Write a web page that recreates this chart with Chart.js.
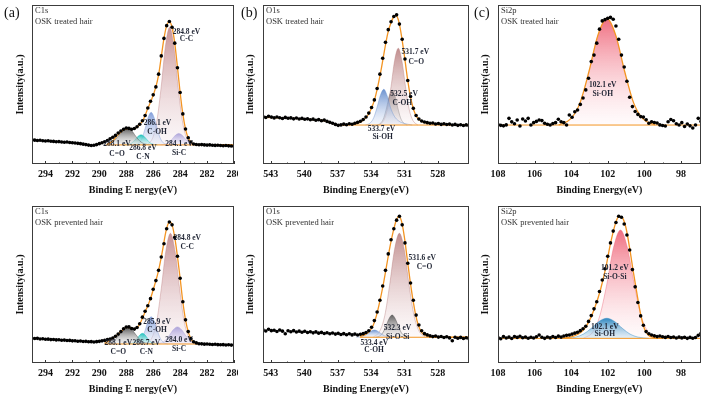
<!DOCTYPE html>
<html>
<head>
<meta charset="utf-8">
<script src="https://cdn.jsdelivr.net/npm/chart.js@4.4.1/dist/chart.umd.min.js"></script>
<style>
  html, body { margin: 0; padding: 0; background: #fff; }
  #wrap { position: relative; width: 705px; height: 397px; overflow: hidden; }
  #wrap canvas { position: absolute; }
</style>
</head>
<body>
<div id="wrap">
  <canvas id="c1s_t" width="238" height="198" style="left:0;top:0"></canvas>
  <canvas id="o1s_t" width="235" height="198" style="left:238px;top:0"></canvas>
  <canvas id="si2p_t" width="232" height="198" style="left:473px;top:0"></canvas>
  <canvas id="c1s_p" width="238" height="199" style="left:0;top:198px"></canvas>
  <canvas id="o1s_p" width="235" height="199" style="left:238px;top:198px"></canvas>
  <canvas id="si2p_p" width="232" height="199" style="left:473px;top:198px"></canvas>
</div>
<script>
// ---- tick labels ----
const C1s_ticks = [280, 282, 284, 286, 288, 290, 292, 294];
const O1s_ticks = [528, 531, 534, 537, 540, 543];
const Si2p_ticks = [98, 100, 102, 104, 106, 108];

// ---- energy grids of the measured points (start, step) ----
const C1s_start = 295, C1s_step = 0.2;
const O1s_start = 543.7, O1s_step = 0.25;
const Si2p_start = 108, Si2p_step = 0.15;

// ---- C1s, OSK treated hair ----
const C1s_t_dots = [15.2,15.0,14.8,14.9,14.6,14.5,14.6,14.3,14.2,14.0,
  14.1,13.8,13.7,13.8,13.5,13.4,13.2,13.0,12.8,12.5,
  12.2,11.9,11.6,11.8,12.2,12.8,13.4,14.0,14.8,15.9,
  16.8,18.0,19.5,20.8,21.9,22.6,22.4,21.9,22.3,23.4,
  25.0,27.2,30.5,35.2,39.5,43.5,48.5,56.5,68.0,79.0,
  87.0,89.6,86.0,76.0,60.5,45.0,31.5,22.0,16.5,13.8,
  12.6,12.3,12.1,12.2,12.0,11.9,12.0,11.8,11.7,11.8,
  11.6,11.5,11.6,11.4,11.3,11.2];
const C1s_t_env = [[289.4,12.5],[289.0,14.5],[288.6,18.5],[288.2,21.5],[287.9,22.3],[287.6,21.8],[287.3,22.5],[287.0,24.8],
  [286.7,28.5],[286.4,35],[286.1,41],[285.8,48.5],[285.6,56],[285.4,67.5],[285.2,79],[285.0,87],[284.8,89.6],
  [284.6,86],[284.4,76],[284.2,61],[284.0,45],[283.8,31.5],[283.6,22],[283.4,16.5],[283.2,13.8],[283.0,12.6],
  [282.6,12.1],[282.0,12.0],[281.0,12.0],[280.0,12.0]];
const C1s_t_base = [[289.5,12],[280,12]];
const C1s_t_CC = [[286.47,12],[286.03,16.6],[285.72,27.5],[285.4,49],[285.09,74.2],[284.78,86],[284.47,74.2],[284.16,49],[283.84,27.5],[283.53,16.6],[283.09,12]];
const C1s_t_SiC = [[285.45,12],[285.1,12.5],[284.85,13.5],[284.6,15.6],[284.35,18.1],[284.1,19.2],[283.85,18.1],[283.6,15.6],[283.35,13.5],[283.1,12.5],[282.75,12]];
const C1s_t_COH = [[287.37,12],[287.05,13.3],[286.83,16.3],[286.6,22.3],[286.38,29.2],[286.15,32.5],[285.93,29.2],[285.7,22.3],[285.48,16.3],[285.25,13.3],[284.93,12]];
const C1s_t_CN = [[288.12,12],[287.8,12.4],[287.58,13.3],[287.35,15.2],[287.13,17.4],[286.9,18.4],[286.68,17.4],[286.45,15.2],[286.23,13.3],[286.0,12.4],[285.68,12]];
const C1s_t_CO = [[289.7,12],[289.25,12.7],[288.93,14.3],[288.6,17.5],[288.28,21.3],[287.95,23],[287.62,21.3],[287.3,17.5],[286.98,14.3],[286.65,12.7],[286.2,12]];
const C1s_t_labels = [[283.53,83,'284.8 eV'],[283.53,78.6,'C-C'],[285.68,26,'286.1 eV'],[285.71,20.3,'C-OH'],
  [288.69,12.6,'288.1 eV'],[288.69,6.1,'C=O'],[286.76,9.9,'286.8 eV'],[286.76,4.6,'C-N'],[284.08,12.4,'284.1 eV'],[284.08,6.7,'Si-C']];

// ---- O1s, OSK treated hair ----
const O1s_t_dots = [29.8,29.2,30.0,29.5,29.0,29.6,29.1,28.6,29.3,28.8,
  29.0,28.4,28.9,28.3,28.7,28.1,28.4,27.8,28.2,27.5,
  27.9,27.2,27.6,26.8,26.2,25.6,24.9,24.3,24.6,25.1,
  24.7,25.3,25.0,25.6,26.2,26.9,28.0,29.6,32.0,35.5,
  40.3,47.5,56.5,66.5,76.5,84.5,89.5,92.8,93.8,88.0,
  78.5,66.0,52.5,42.5,35.0,30.5,28.3,27.0,26.4,26.0,
  25.6,25.8,25.2,25.5,24.9,25.3,24.8,25.1,24.5,24.9,
  24.3,24.7,24.2,24.6,24.1];
const O1s_t_env = [[543.7,29.3],[541,28.7],[539,27.8],[538,27],[537.3,25.2],[536.8,24.6],[536,24.8],[535.2,25.5],[534.7,27.5],
  [534.3,30.5],[534.0,34.5],[533.7,40],[533.4,48.5],[533.1,59],[532.8,71],[532.5,82],[532.2,89],[531.95,92.6],[531.75,93.4],
  [531.5,89.5],[531.25,80],[531.0,68],[530.75,55],[530.5,44],[530.25,36],[530.0,31],[529.7,28],[529.3,26.3],[528.5,25.3],
  [527,24.8],[525.2,24.5]];
const O1s_t_base = [[537.2,24.5],[525.2,24.5]];
const O1s_t_CO = [[533.3,24.5],[532.85,27.5],[532.53,34.6],[532.2,48.7],[531.88,65.1],[531.55,72.8],[531.23,65.1],[530.9,48.7],[530.58,34.6],[530.25,27.5],[529.8,24.5]];
const O1s_t_COH = [[533.45,24.5],[533.1,25.9],[532.85,29.1],[532.6,35.5],[532.35,43.0],[532.1,46.5],[531.85,43.0],[531.6,35.5],[531.35,29.1],[531.1,25.9],[530.75,24.5]];
const O1s_t_SiOH = [[534.5,24.5],[534.05,25.9],[533.75,29.2],[533.45,35.8],[533.15,43.4],[532.85,47],[532.55,43.0],[532.25,35.5],[531.9,30.0],[531.5,27.0],[531.0,25.5],[530.3,24.5]];
const O1s_t_labels = [[530.02,70.2,'531.7 eV'],[529.94,64.3,'C=O'],[531.03,43.8,'532.5 eV'],[531.18,38.2,'C-OH'],
  [533.06,21.8,'533.7 eV'],[532.96,16.8,'Si-OH']];

// ---- Si2p, OSK treated hair ----
const Si2p_t_dots = [24.8,24.3,24.0,24.6,28.7,26.5,25.3,27.7,23.9,28.3,
  27.0,28.7,24.5,26.0,26.8,27.7,27.3,25.6,25.0,24.5,
  25.4,26.0,28.1,26.6,26.0,24.5,30.8,29.4,32.9,34.0,
  37.5,41.5,46.6,53.9,64.4,68.5,76.0,84.8,90.0,90.8,
  91.6,92.2,91.0,86.8,78.5,68.5,61.0,52.0,42.0,36.1,
  33.0,31.2,29.8,29.5,27.8,25.6,26.6,26.1,25.8,24.6,
  24.2,23.9,26.6,28.0,27.2,25.3,24.5,26.0,23.6,25.2,
  24.0,22.6,24.5,28.7,26.8];
const Si2p_t_base = [[108,24.5],[96.9,24.5]];
const Si2p_t_SiOH = [[104.68,24.5],[104.0,28.7],[103.51,38.6],[103.03,58],[102.54,80.9],[102.05,91.5],[101.56,80.9],[101.07,58],[100.59,38.6],[100.1,28.7],[99.42,24.5]];
const Si2p_t_labels = [[102.27,49.7,'102.1 eV'],[102.27,44,'Si-OH']];

// ---- C1s, OSK prevented hair ----
const C1s_p_dots = [15.8,15.6,15.7,15.3,15.4,15.1,15.2,14.9,15.0,14.7,
  14.8,14.5,14.6,14.3,14.4,14.1,14.2,13.9,14.0,13.7,
  13.8,13.5,13.6,13.4,13.6,13.8,14.1,14.4,14.9,15.3,
  15.9,17.0,18.4,20.0,21.8,22.9,23.0,22.0,21.6,22.6,
  25.0,29.2,33.0,36.5,41.0,47.0,52.5,59.0,67.5,76.0,
  85.5,89.8,88.0,80.0,68.0,54.0,39.0,27.5,20.0,15.5,
  13.5,12.8,12.3,12.2,12.0,12.1,11.9,11.8,11.9,11.7,
  11.6,11.7,11.5,11.6,11.4,11.5];
const C1s_p_env = [[289.6,12.5],[289.2,14.5],[288.8,17],[288.4,20],[288.0,22.7],[287.7,22.5],[287.4,21.8],[287.1,23.5],[286.8,28.5],
  [286.5,34.5],[286.2,41],[285.9,49.5],[285.6,59],[285.3,72],[285.1,82],[284.9,88.5],[284.75,89.8],[284.6,88],[284.4,80],
  [284.2,68],[284.0,54],[283.8,39],[283.6,27.5],[283.4,20],[283.2,15.5],[283.0,13.5],[282.8,12.6],[282.5,12.2]];
const C1s_p_base = [[289.6,12.1],[282.5,12.1]];
const C1s_p_CC = [[286.54,12.1],[286.07,16.5],[285.73,26.9],[285.4,47.4],[285.06,71.4],[284.72,82.6],[284.38,71.4],[284.04,47.4],[283.71,26.9],[283.37,16.5],[282.9,12.1]];
const C1s_p_SiC = [[285.82,12.1],[285.4,12.8],[285.1,14.4],[284.8,17.6],[284.5,21.3],[284.2,23],[283.9,21.3],[283.6,17.6],[283.3,14.4],[283.0,12.8],[282.58,12.1]];
const C1s_p_COH = [[287.37,12.1],[287.05,13.2],[286.83,15.8],[286.6,20.8],[286.38,26.7],[286.15,29.5],[285.93,26.7],[285.7,20.8],[285.48,15.8],[285.25,13.2],[284.93,12.1]];
const C1s_p_CN = [[287.88,12.1],[287.6,12.5],[287.4,13.5],[287.2,15.5],[287.0,17.8],[286.8,18.9],[286.6,17.8],[286.4,15.5],[286.2,13.5],[286.0,12.5],[285.72,12.1]];
const C1s_p_CO = [[289.65,12.1],[289.2,12.8],[288.88,14.4],[288.55,17.6],[288.23,21.3],[287.9,23],[287.58,21.3],[287.25,17.6],[286.93,14.4],[286.6,12.8],[286.15,12.1]];
const C1s_p_labels = [[283.47,79.4,'284.8 eV'],[283.47,73.7,'C-C'],[285.71,25.9,'285.9 eV'],[285.71,21,'C-OH'],
  [288.59,12.5,'288.1 eV'],[288.59,7.2,'C=O'],[286.51,12.5,'286.7 eV'],[286.51,7.2,'C-N'],[284.08,14.6,'284.0 eV'],[284.08,8.9,'Si-C']];

// ---- O1s, OSK prevented hair ----
const O1s_p_dots = [21.2,20.4,21.5,20.6,20.9,20.1,21.0,20.3,18.6,20.5,
  19.9,20.6,19.7,20.3,19.6,20.2,19.4,19.9,19.2,19.8,
  19.0,19.5,18.8,19.3,18.6,19.1,18.4,18.9,18.2,18.7,
  18.0,18.6,17.9,18.4,17.8,18.3,18.7,19.4,20.5,22.8,
  27.0,32.5,40.0,49.0,59.0,69.5,78.5,85.5,91.0,93.4,
  88.0,76.5,63.5,51.0,40.0,30.5,24.2,20.5,18.7,17.9,
  17.3,16.8,17.2,16.5,16.9,16.2,16.7,16.0,14.2,16.4,
  15.8,16.3,15.6,16.1,15.5];
const O1s_p_env = [[535.0,17.0],[534.5,18.2],[534.1,20.5],[533.8,24],[533.5,30.5],[533.2,39.5],[532.9,50],[532.6,62],[532.3,74],
  [532.0,84],[531.75,90.5],[531.5,93.4],[531.25,90],[531.0,80],[530.75,66.5],[530.5,53],[530.25,41],[530.0,31],[529.75,24],
  [529.5,20],[529.2,18],[528.8,16.9],[528.2,16.5],[527,16.4],[525.2,16.4]];
const O1s_p_base = [[535,16.4],[525.2,16.4]];
const O1s_p_CO = [[533.81,16.4],[533.2,20.5],[532.76,30.3],[532.33,49.5],[531.89,72.1],[531.45,82.6],[531.01,72.1],[530.58,49.5],[530.14,30.3],[529.7,20.5],[529.09,16.4]];
const O1s_p_SiOSi = [[533.58,16.4],[533.2,17.3],[532.93,19.4],[532.65,23.5],[532.38,28.3],[532.1,30.6],[531.83,28.3],[531.55,23.5],[531.28,19.4],[531.0,17.3],[530.62,16.4]];
const O1s_p_COH = [[535.32,16.4],[534.9,16.7],[534.6,17.4],[534.3,18.7],[534.0,20.3],[533.7,21],[533.4,20.3],[533.1,18.7],[532.8,17.4],[532.5,16.7],[532.08,16.4]];
const O1s_p_labels = [[529.4,66.7,'531.6 eV'],[529.2,61.3,'C=O'],[531.63,22.5,'532.3 eV'],[531.6,16.8,'Si-O-Si'],
  [533.7,12.5,'533.4 eV'],[533.72,8.3,'C-OH']];

// ---- Si2p, OSK prevented hair ----
const Si2p_p_dots = [16.2,15.4,16.8,15.9,16.5,15.6,16.9,16.3,17.0,16.1,
  16.6,15.8,16.4,15.9,16.7,17.8,16.4,15.7,16.6,16.0,
  16.9,16.2,17.1,16.5,17.2,17.6,17.8,18.4,19.0,19.6,
  20.6,21.8,23.4,26.5,30.2,34.5,39.0,45.5,52.9,60.0,
  68.0,76.5,84.0,89.5,93.5,92.8,88.5,81.5,72.0,59.5,
  48.5,38.5,30.0,24.0,20.0,18.6,17.8,17.3,16.8,17.2,
  16.7,16.3,16.9,16.2,16.6,15.9,16.5,16.0,16.4,15.7,
  16.3,15.8,16.2,17.6,18.9];
const Si2p_p_env = [[104.5,15.8],[104.0,16.7],[103.6,18.5],[103.3,21.5],[103.0,27],[102.7,35.5],[102.4,46.5],[102.1,61],
  [101.85,76],[101.6,88],[101.4,93.3],[101.2,92.5],[101.0,86],[100.8,73],[100.6,58],[100.4,44],[100.2,31],[100.0,22],
  [99.8,18],[99.5,16.2],[99.0,15.7]];
const Si2p_p_base = [[108,15.7],[96.9,15.7]];
const Si2p_p_SiOSi = [[103.33,15.7],[102.8,20.0],[102.43,30.2],[102.05,50.2],[101.68,73.7],[101.3,84.7],[100.93,73.7],[100.55,50.2],[100.18,30.2],[99.8,20.0],[99.28,15.7]];
const Si2p_p_SiOH = [[104.35,15.7],[103.75,16.5],[103.33,18.4],[102.9,22.1],[102.48,26.5],[102.05,28.5],[101.63,26.5],[101.2,22.1],[100.78,18.4],[100.35,16.5],[99.75,15.7]];
const Si2p_p_labels = [[101.61,60.3,'101.2 eV'],[101.61,55,'Si-O-Si'],[102.16,23,'102.1 eV'],[102.16,18.3,'Si-OH']];

// ---- colours of the fitted components [top, bottom] ----
const COL = {
  cc:    ['rgba(190,128,130,0.85)', 'rgba(246,234,238,0.35)'],
  coh:   ['rgba(120,150,215,0.9)', 'rgba(225,232,248,0.35)'],
  gray:  ['rgba(60,60,60,0.9)', 'rgba(225,225,225,0.35)'],
  teal:  ['rgba(20,190,185,0.95)', 'rgba(200,240,238,0.4)'],
  lav:   ['rgba(165,155,215,0.9)', 'rgba(232,228,248,0.4)'],
  oco:   ['rgba(182,122,122,0.85)', 'rgba(248,236,238,0.3)'],
  ogray: ['rgba(70,70,70,0.85)', 'rgba(230,230,230,0.3)'],
  oblue: ['rgba(100,140,205,0.95)', 'rgba(225,232,248,0.35)'],
  pink:  ['rgba(238,95,115,0.9)', 'rgba(255,242,244,0.3)'],
  blue:  ['rgba(35,130,190,0.95)', 'rgba(200,226,242,0.45)']
};
const ORANGE = '#F39422';
const SERIF = '"Liberation Serif", "Times New Roman", serif';

Chart.defaults.font.family = SERIF;

const pts = arr => arr.map(d => ({x: d[0], y: d[1]}));
const grid = (start, step, vals) => vals.map((v, i) => ({x: +(start - i * step).toFixed(3), y: v}));

function deco(p) {
  return {
    id: 'deco',
    afterDatasetsDraw(chart) {
      const {ctx, chartArea: a, scales: {x, y}} = chart;
      ctx.save();
      // inward ticks on the bottom axis
      ctx.strokeStyle = '#333';
      ctx.lineWidth = 1;
      const tk = p.ticks;
      for (let i = 0; i < tk.length; i++) {
        const px = Math.round(x.getPixelForValue(tk[i])) + 0.5;
        ctx.beginPath(); ctx.moveTo(px, a.bottom); ctx.lineTo(px, a.bottom - 3); ctx.stroke();
        if (i < tk.length - 1) {
          const mx = Math.round(x.getPixelForValue((tk[i] + tk[i + 1]) / 2)) + 0.5;
          ctx.beginPath(); ctx.moveTo(mx, a.bottom); ctx.lineTo(mx, a.bottom - 1.5); ctx.stroke();
        }
      }
      // frame
      ctx.strokeStyle = '#3c3c3c';
      ctx.strokeRect(Math.round(a.left) + 0.5, Math.round(a.top) + 0.5,
        Math.round(a.right - a.left) - 1, Math.round(a.bottom - a.top) - 1);
      // core level and sample
      ctx.fillStyle = '#333';
      ctx.font = '8.5px ' + SERIF;
      ctx.textAlign = 'left';
      ctx.textBaseline = 'middle';
      ctx.fillText(p.line1, a.left + 3, a.top + 6);
      ctx.fillText(p.line2, a.left + 3, a.top + 17);
      // peak labels
      ctx.font = 'bold 7.5px ' + SERIF;
      ctx.fillStyle = '#1f2433';
      ctx.textAlign = 'center';
      p.labels.forEach(l => ctx.fillText(l[2], x.getPixelForValue(l[0]), y.getPixelForValue(l[1])));
      // panel tag
      if (p.tag) {
        ctx.font = '14px ' + SERIF;
        ctx.fillStyle = '#111';
        ctx.textAlign = 'left';
        ctx.fillText(p.tag, p.tagX, 13);
      }
      ctx.restore();
    }
  };
}

function makePanel(p) {
  const ds = [];
  ds.push({data: p.dots, showLine: false,
    pointRadius: 1.8, pointBackgroundColor: '#000', pointBorderWidth: 0, order: 0});
  if (p.env) ds.push({data: pts(p.env), showLine: true, borderColor: ORANGE, borderWidth: 1.3,
    pointRadius: 0, cubicInterpolationMode: 'monotone', order: 1});
  ds.push({data: pts(p.base), showLine: true, borderColor: ORANGE, borderWidth: 1, pointRadius: 0, order: 2});
  const n = p.comps.length;
  p.comps.forEach((c, i) => {
    const peak = Math.max(...c.data.map(d => d[1]));
    const base = c.data[0][1];
    ds.push({
      data: pts(c.data), showLine: true, pointRadius: 0, cubicInterpolationMode: 'monotone',
      borderColor: c.border || c.col[0].replace(/[\d.]+\)$/, '0.5)'), borderWidth: c.border ? 1.3 : 0.8,
      fill: {value: base},
      backgroundColor: (ctx) => {
        const ch = ctx.chart;
        if (!ch.chartArea) return c.col[0];
        const ys = ch.scales.y;
        const g = ch.ctx.createLinearGradient(0, ys.getPixelForValue(peak), 0, ys.getPixelForValue(base));
        g.addColorStop(0, c.col[0]);
        g.addColorStop(1, c.col[1]);
        return g;
      },
      order: 10 + (n - i)
    });
  });
  const bold10 = {family: SERIF, size: 10, weight: 'bold'};
  new Chart(document.getElementById(p.id), {
    type: 'scatter',
    data: {datasets: ds},
    options: {
      responsive: false,
      animation: false,
      layout: {padding: {top: p.padTop, right: p.padRight, left: 0, bottom: 0}},
      plugins: {legend: {display: false}, tooltip: {enabled: false}},
      scales: {
        x: {
          type: 'linear', min: p.min, max: p.max, reverse: true,
          grid: {display: false, drawTicks: false},
          border: {display: false},
          ticks: {font: bold10, color: '#111', padding: 4, maxRotation: 0, autoSkip: false, callback: v => String(v)},
          afterBuildTicks: s => { s.ticks = p.ticks.map(v => ({value: v})); },
          afterFit: s => { s.height = 34; },
          title: {display: true, text: p.xTitle, font: bold10, color: '#111', padding: {top: 0, bottom: 2}}
        },
        y: {
          min: 0, max: 100,
          grid: {display: false, drawTicks: false},
          border: {display: false},
          ticks: {display: false},
          afterFit: s => { s.width = p.yWidth; },
          title: {display: true, text: 'Intensity(a.u.)', font: bold10, color: '#111', padding: {top: p.yTitlePad, bottom: 0}}
        }
      }
    },
    plugins: [deco(p)]
  });
}

makePanel({id: 'c1s_t', dots: grid(C1s_start, C1s_step, C1s_t_dots), env: C1s_t_env, base: C1s_t_base,
  comps: [{data: C1s_t_CC, col: COL.cc}, {data: C1s_t_SiC, col: COL.lav}, {data: C1s_t_COH, col: COL.coh},
          {data: C1s_t_CN, col: COL.teal}, {data: C1s_t_CO, col: COL.gray}],
  min: 280, max: 295, ticks: C1s_ticks, xTitle: 'Binding E nergy(eV)', labels: C1s_t_labels,
  line1: 'C1s', line2: 'OSK treated hair', tag: '(a)', tagX: 4,
  yWidth: 32, padTop: 5, padRight: 2, yTitlePad: 14.7});

makePanel({id: 'o1s_t', dots: grid(O1s_start, O1s_step, O1s_t_dots), env: O1s_t_env, base: O1s_t_base,
  comps: [{data: O1s_t_COH, col: COL.ogray}, {data: O1s_t_CO, col: COL.oco}, {data: O1s_t_SiOH, col: COL.oblue}],
  min: 525.2, max: 543.7, ticks: O1s_ticks, xTitle: 'Binding Energy(eV)', labels: O1s_t_labels,
  line1: 'O1s', line2: 'OSK treated hair', tag: '(b)', tagX: 3,
  yWidth: 25, padTop: 5, padRight: 3, yTitlePad: 6});

makePanel({id: 'si2p_t', dots: grid(Si2p_start, Si2p_step, Si2p_t_dots), env: null, base: Si2p_t_base,
  comps: [{data: Si2p_t_SiOH, col: COL.pink, border: ORANGE}],
  min: 96.9, max: 108, ticks: Si2p_ticks, xTitle: 'Binding Energy(eV)', labels: Si2p_t_labels,
  line1: 'Si2p', line2: 'OSK treated hair', tag: '(c)', tagX: 1,
  yWidth: 25, padTop: 5, padRight: 2, yTitlePad: 6});

makePanel({id: 'c1s_p', dots: grid(C1s_start, C1s_step, C1s_p_dots), env: C1s_p_env, base: C1s_p_base,
  comps: [{data: C1s_p_CC, col: COL.cc}, {data: C1s_p_SiC, col: COL.lav}, {data: C1s_p_COH, col: COL.coh},
          {data: C1s_p_CN, col: COL.teal}, {data: C1s_p_CO, col: COL.gray}],
  min: 280, max: 295, ticks: C1s_ticks, xTitle: 'Binding E nergy(eV)', labels: C1s_p_labels,
  line1: 'C1s', line2: 'OSK prevented hair', tag: null,
  yWidth: 32, padTop: 8, padRight: 2, yTitlePad: 14.7});

makePanel({id: 'o1s_p', dots: grid(O1s_start, O1s_step, O1s_p_dots), env: O1s_p_env, base: O1s_p_base,
  comps: [{data: O1s_p_CO, col: COL.oco}, {data: O1s_p_SiOSi, col: COL.ogray}, {data: O1s_p_COH, col: COL.oblue}],
  min: 525.2, max: 543.7, ticks: O1s_ticks, xTitle: 'Binding Energy(eV)', labels: O1s_p_labels,
  line1: 'O1s', line2: 'OSK prevented hair', tag: null,
  yWidth: 25, padTop: 8, padRight: 3, yTitlePad: 6});

makePanel({id: 'si2p_p', dots: grid(Si2p_start, Si2p_step, Si2p_p_dots), env: Si2p_p_env, base: Si2p_p_base,
  comps: [{data: Si2p_p_SiOSi, col: COL.pink}, {data: Si2p_p_SiOH, col: COL.blue}],
  min: 96.9, max: 108, ticks: Si2p_ticks, xTitle: 'Binding Energy(eV)', labels: Si2p_p_labels,
  line1: 'Si2p', line2: 'OSK prevented hair', tag: null,
  yWidth: 25, padTop: 8, padRight: 2, yTitlePad: 6});
</script>
</body>
</html>
